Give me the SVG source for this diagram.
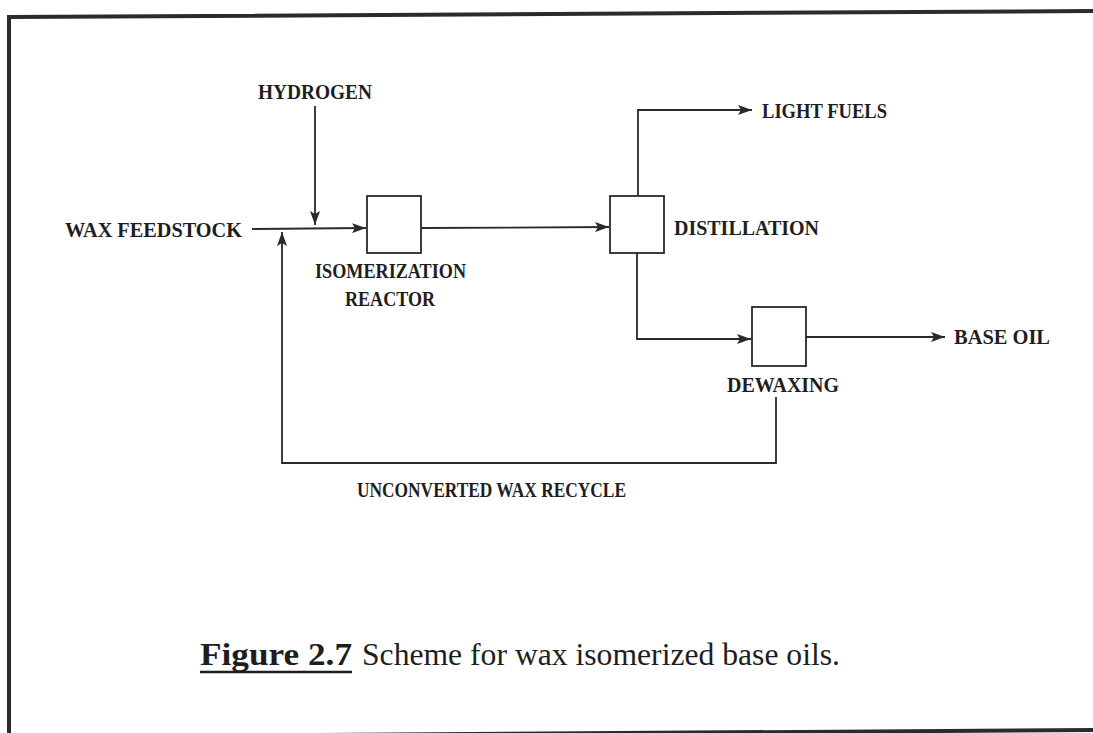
<svg xmlns="http://www.w3.org/2000/svg" width="1093" height="733" viewBox="0 0 1093 733">
  <style>
    .lbl { font-family: "Liberation Serif", "Times New Roman", serif; font-weight: bold; font-size: 21px; fill: #1e1e1e; }
    .cap { font-family: "Liberation Serif", "Times New Roman", serif; font-size: 32px; fill: #1e1e1e; }
    .ln { fill: none; stroke: #2a2a2a; stroke-width: 1.8; }
    .box { fill: #ffffff; stroke: #2a2a2a; stroke-width: 1.8; }
    .frame { fill: none; stroke: #2b2b2b; stroke-width: 4; }
  </style>
  <defs>
    <marker id="arr" viewBox="0 0 14 10" refX="14" refY="5" markerWidth="14" markerHeight="10" markerUnits="userSpaceOnUse" orient="auto">
      <path d="M0,0 L14,5 L0,10 L3,5 Z" fill="#2a2a2a"/>
    </marker>
  </defs>
  <rect x="0" y="0" width="1093" height="733" fill="#ffffff"/>
  <g id="frame">
    <path class="frame" d="M9,740 L9,17 L1093,11"/>
    <path class="frame" d="M9,737 L1093,730"/>
  </g>
  <g id="connectors">
    <line class="ln" x1="252" y1="229" x2="366" y2="228" marker-end="url(#arr)"/>
    <line class="ln" x1="315" y1="106" x2="315" y2="225" marker-end="url(#arr)"/>
    <path class="ln" d="M776,397 L776,463 L282,463 L282,232" marker-end="url(#arr)"/>
    <line class="ln" x1="421" y1="228" x2="609" y2="227" marker-end="url(#arr)"/>
    <path class="ln" d="M638,196 L638,110 L752,110" marker-end="url(#arr)"/>
    <path class="ln" d="M637,253 L637,339 L751,339" marker-end="url(#arr)"/>
    <line class="ln" x1="806" y1="337" x2="945" y2="337" marker-end="url(#arr)"/>
  </g>
  <g id="hydrogen"><text class="lbl" x="258" y="99" textLength="114" lengthAdjust="spacingAndGlyphs">HYDROGEN</text></g>
  <g id="wax-feedstock"><text class="lbl" x="65" y="237" textLength="177" lengthAdjust="spacingAndGlyphs">WAX FEEDSTOCK</text></g>
  <g id="isomerization-reactor">
    <rect class="box" x="367" y="196" width="54" height="57"/>
    <text class="lbl" x="315" y="278" textLength="151" lengthAdjust="spacingAndGlyphs">ISOMERIZATION</text>
    <text class="lbl" x="345" y="306" textLength="90" lengthAdjust="spacingAndGlyphs">REACTOR</text>
  </g>
  <g id="distillation">
    <rect class="box" x="610" y="196" width="54" height="57"/>
    <text class="lbl" x="674" y="235" textLength="145" lengthAdjust="spacingAndGlyphs">DISTILLATION</text>
  </g>
  <g id="light-fuels"><text class="lbl" x="762" y="118" textLength="125" lengthAdjust="spacingAndGlyphs">LIGHT FUELS</text></g>
  <g id="dewaxing">
    <rect class="box" x="752" y="307" width="54" height="59"/>
    <text class="lbl" x="727" y="392" textLength="112" lengthAdjust="spacingAndGlyphs">DEWAXING</text>
  </g>
  <g id="base-oil"><text class="lbl" x="954" y="344" textLength="96" lengthAdjust="spacingAndGlyphs">BASE OIL</text></g>
  <g id="recycle-label"><text class="lbl" x="357" y="497" textLength="269" lengthAdjust="spacingAndGlyphs">UNCONVERTED WAX RECYCLE</text></g>
  <g id="caption">
    <text class="cap" x="200" y="665" font-weight="bold" textLength="152" lengthAdjust="spacingAndGlyphs">Figure 2.7</text>
    <line x1="200" y1="672" x2="352" y2="672" stroke="#1e1e1e" stroke-width="2.5"/>
    <text class="cap" x="362" y="665" textLength="478" lengthAdjust="spacingAndGlyphs">Scheme for wax isomerized base oils.</text>
  </g>
</svg>
